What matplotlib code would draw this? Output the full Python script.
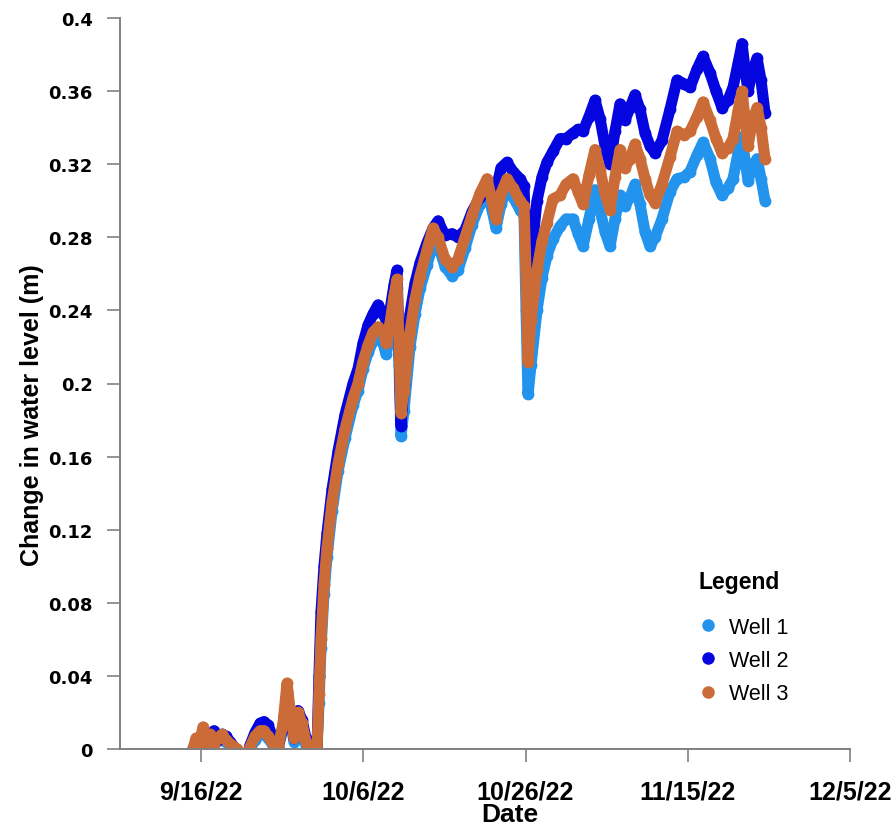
import matplotlib
matplotlib.use("Agg")
import matplotlib.pyplot as plt
from matplotlib.lines import Line2D
from matplotlib import font_manager
import pandas as pd

# Elapsed time of each reading, in days after 6 Sep 2022 00:00
days = [
    9.00, 9.37, 9.74, 10.23, 10.60, 11.10, 11.59, 12.08, 12.58, 13.07,
    13.56, 14.06, 14.43, 15.04, 15.66, 16.03, 16.64, 17.26, 17.75, 18.25,
    18.86, 19.48, 20.10, 20.59, 20.96, 21.45, 21.95, 22.44, 22.93, 23.43,
    24.04, 24.29, 24.53, 24.78, 25.15, 25.52, 26.14, 26.88, 27.74, 28.73,
    29.34, 29.96, 30.58, 31.19, 31.81, 32.43, 32.80, 33.29, 33.78, 34.15,
    34.40, 34.64, 35.01, 35.75, 36.37, 36.99, 37.85, 38.59, 39.21, 40.07,
    40.93, 41.67, 42.54, 43.40, 44.38, 45.25, 45.86, 46.36, 46.97, 47.71,
    48.45, 49.32, 49.81, 50.06, 50.30, 50.67, 51.41, 52.03, 52.64, 53.38,
    54.25, 54.99, 55.85, 56.47, 57.08, 57.82, 58.56, 59.18, 59.80, 60.41,
    61.03, 61.65, 62.26, 62.88, 63.49, 64.11, 64.73, 65.34, 65.96, 66.82,
    67.81, 68.67, 69.54, 70.28, 71.14, 71.88, 72.74, 73.48, 74.22, 74.96,
    75.58, 76.19, 76.69, 77.06, 77.43, 77.92, 78.54, 79.03, 79.52,
]

well_1 = [
    0.000, 0.004, 0.002, 0.008, 0.003, 0.006, 0.002, 0.005, 0.005, 0.004,
    0.002, 0.000, -0.005, -0.007, -0.005, 0.000, 0.005, 0.008, 0.008, 0.006,
    0.002, 0.000, 0.012, 0.032, 0.016, 0.004, 0.018, 0.011, 0.002, -0.004,
    -0.007, 0.000, 0.025, 0.055, 0.085, 0.105, 0.130, 0.152, 0.170, 0.188,
    0.196, 0.208, 0.217, 0.223, 0.226, 0.222, 0.216, 0.226, 0.243, 0.252,
    0.210, 0.171, 0.185, 0.220, 0.238, 0.252, 0.265, 0.276, 0.276, 0.264,
    0.259, 0.262, 0.274, 0.287, 0.298, 0.307, 0.295, 0.285, 0.298, 0.307,
    0.302, 0.295, 0.292, 0.240, 0.194, 0.210, 0.240, 0.258, 0.270, 0.279,
    0.286, 0.290, 0.290, 0.282, 0.275, 0.290, 0.306, 0.295, 0.283, 0.275,
    0.290, 0.303, 0.297, 0.302, 0.309, 0.298, 0.283, 0.275, 0.280, 0.290,
    0.305, 0.312, 0.313, 0.316, 0.325, 0.332, 0.323, 0.310, 0.303, 0.307,
    0.312, 0.326, 0.335, 0.322, 0.311, 0.318, 0.323, 0.312, 0.300,
]

well_2 = [
    0.000, 0.003, 0.005, 0.006, 0.004, 0.008, 0.010, 0.005, 0.008, 0.007,
    0.004, 0.001, -0.004, -0.006, -0.004, 0.002, 0.009, 0.014, 0.015, 0.013,
    0.006, 0.001, 0.012, 0.030, 0.018, 0.006, 0.021, 0.016, 0.006, -0.003,
    -0.006, 0.000, 0.040, 0.075, 0.100, 0.118, 0.142, 0.163, 0.183, 0.200,
    0.208, 0.222, 0.232, 0.238, 0.243, 0.238, 0.235, 0.240, 0.254, 0.262,
    0.220, 0.177, 0.200, 0.238, 0.255, 0.266, 0.277, 0.285, 0.289, 0.281,
    0.282, 0.280, 0.284, 0.294, 0.302, 0.309, 0.305, 0.306, 0.318, 0.321,
    0.316, 0.312, 0.308, 0.275, 0.244, 0.268, 0.300, 0.313, 0.321, 0.327,
    0.334, 0.334, 0.337, 0.339, 0.338, 0.346, 0.355, 0.345, 0.330, 0.320,
    0.338, 0.353, 0.344, 0.351, 0.358, 0.350, 0.337, 0.330, 0.326, 0.333,
    0.350, 0.366, 0.364, 0.362, 0.372, 0.379, 0.370, 0.360, 0.351, 0.355,
    0.362, 0.375, 0.386, 0.372, 0.360, 0.370, 0.378, 0.366, 0.348,
]

well_3 = [
    0.000, 0.006, 0.002, 0.012, 0.004, 0.008, 0.003, 0.006, 0.008, 0.005,
    0.003, 0.001, 0.000, -0.006, -0.004, 0.001, 0.007, 0.010, 0.010, 0.007,
    0.003, 0.001, 0.014, 0.036, 0.022, 0.006, 0.020, 0.014, 0.004, -0.003,
    -0.006, 0.000, 0.030, 0.060, 0.090, 0.110, 0.135, 0.156, 0.175, 0.192,
    0.200, 0.212, 0.221, 0.228, 0.231, 0.228, 0.222, 0.233, 0.248, 0.257,
    0.220, 0.184, 0.196, 0.228, 0.246, 0.259, 0.273, 0.285, 0.280, 0.268,
    0.264, 0.268, 0.280, 0.292, 0.304, 0.312, 0.300, 0.290, 0.304, 0.312,
    0.307, 0.300, 0.297, 0.260, 0.212, 0.235, 0.262, 0.278, 0.288, 0.301,
    0.303, 0.309, 0.312, 0.305, 0.298, 0.314, 0.328, 0.317, 0.304, 0.295,
    0.313, 0.328, 0.318, 0.323, 0.331, 0.323, 0.312, 0.303, 0.299, 0.309,
    0.324, 0.338, 0.336, 0.338, 0.346, 0.354, 0.344, 0.334, 0.326, 0.329,
    0.334, 0.349, 0.360, 0.345, 0.330, 0.343, 0.351, 0.340, 0.323,
]

series_names = ["Well 1", "Well 2", "Well 3"]
series_colors = ["#2394EE", "#0505E0", "#CB6C38"]

x_tick_dates = ["2022-09-16", "2022-10-06", "2022-10-26", "2022-11-15", "2022-12-05"]
x_tick_labels = ["9/16/22", "10/6/22", "10/26/22", "11/15/22", "12/5/22"]
y_ticks = [0, 0.04, 0.08, 0.12, 0.16, 0.2, 0.24, 0.28, 0.32, 0.36, 0.4]

start = pd.Timestamp("2022-09-06")
times = start + pd.to_timedelta(days, unit="D")

installed = {f.name for f in font_manager.fontManager.ttflist}
narrow = "Liberation Sans Narrow" if "Liberation Sans Narrow" in installed else "Liberation Sans"

fig = plt.figure(figsize=(8.91, 8.29), dpi=100)
ax = fig.add_axes([120 / 891, 1 - 750 / 829, 730 / 891, 731 / 829])

for vals, name, col in zip([well_1, well_2, well_3], series_names, series_colors):
    ax.plot(times, vals, color=col, lw=8.0, marker="o", ms=7.5, mec=col, mfc=col,
            solid_capstyle="round", solid_joinstyle="round", label=name)

ax.set_xlim(pd.Timestamp("2022-09-06"), pd.Timestamp("2022-12-05"))
ax.set_ylim(0, 0.4)

ax.set_xticks(pd.to_datetime(x_tick_dates))
ax.set_xticklabels(x_tick_labels, family=narrow, fontweight="bold", fontsize=18)
ax.set_yticks(y_ticks)
ax.set_yticklabels([f"{v:g}" for v in y_ticks], family="DejaVu Sans",
                   fontweight="bold", fontsize=13)

grey = "#808080"
for side in ("top", "right"):
    ax.spines[side].set_visible(False)
for side in ("left", "bottom"):
    ax.spines[side].set_color(grey)
    ax.spines[side].set_linewidth(1.4)

ax.tick_params(axis="x", direction="out", length=9, width=1.2, color=grey, pad=13)
ax.tick_params(axis="y", direction="out", length=9.5, width=1.2, color=grey, pad=10)

ax.set_xlabel("Date", family=narrow, fontweight="bold", fontsize=19)
ax.xaxis.set_label_coords((510 - 120) / 730, (750 - 803) / 731)
ax.set_ylabel("Change in water level (m)", family=narrow, fontweight="bold", fontsize=18)
ax.yaxis.set_label_coords((44 - 120) / 730, (750 - 415) / 731)

handles = [Line2D([], [], ls="none", marker="o", ms=8, color=c) for c in series_colors]
leg = ax.legend(handles, series_names, title="Legend", loc="upper left",
                bbox_to_anchor=(699 / 891, 1 - 571 / 829), bbox_transform=fig.transFigure,
                frameon=False, prop={"family": "Liberation Sans", "size": 15.5},
                title_fontproperties={"family": "Liberation Sans", "weight": "bold", "size": 16.5},
                handlelength=0.8, handletextpad=0.6, labelspacing=0.57,
                borderpad=0, borderaxespad=0, alignment="left")
# extra room between the legend title and its entries
leg._legend_box.sep = 17

fig.savefig("out.png", dpi=100)
